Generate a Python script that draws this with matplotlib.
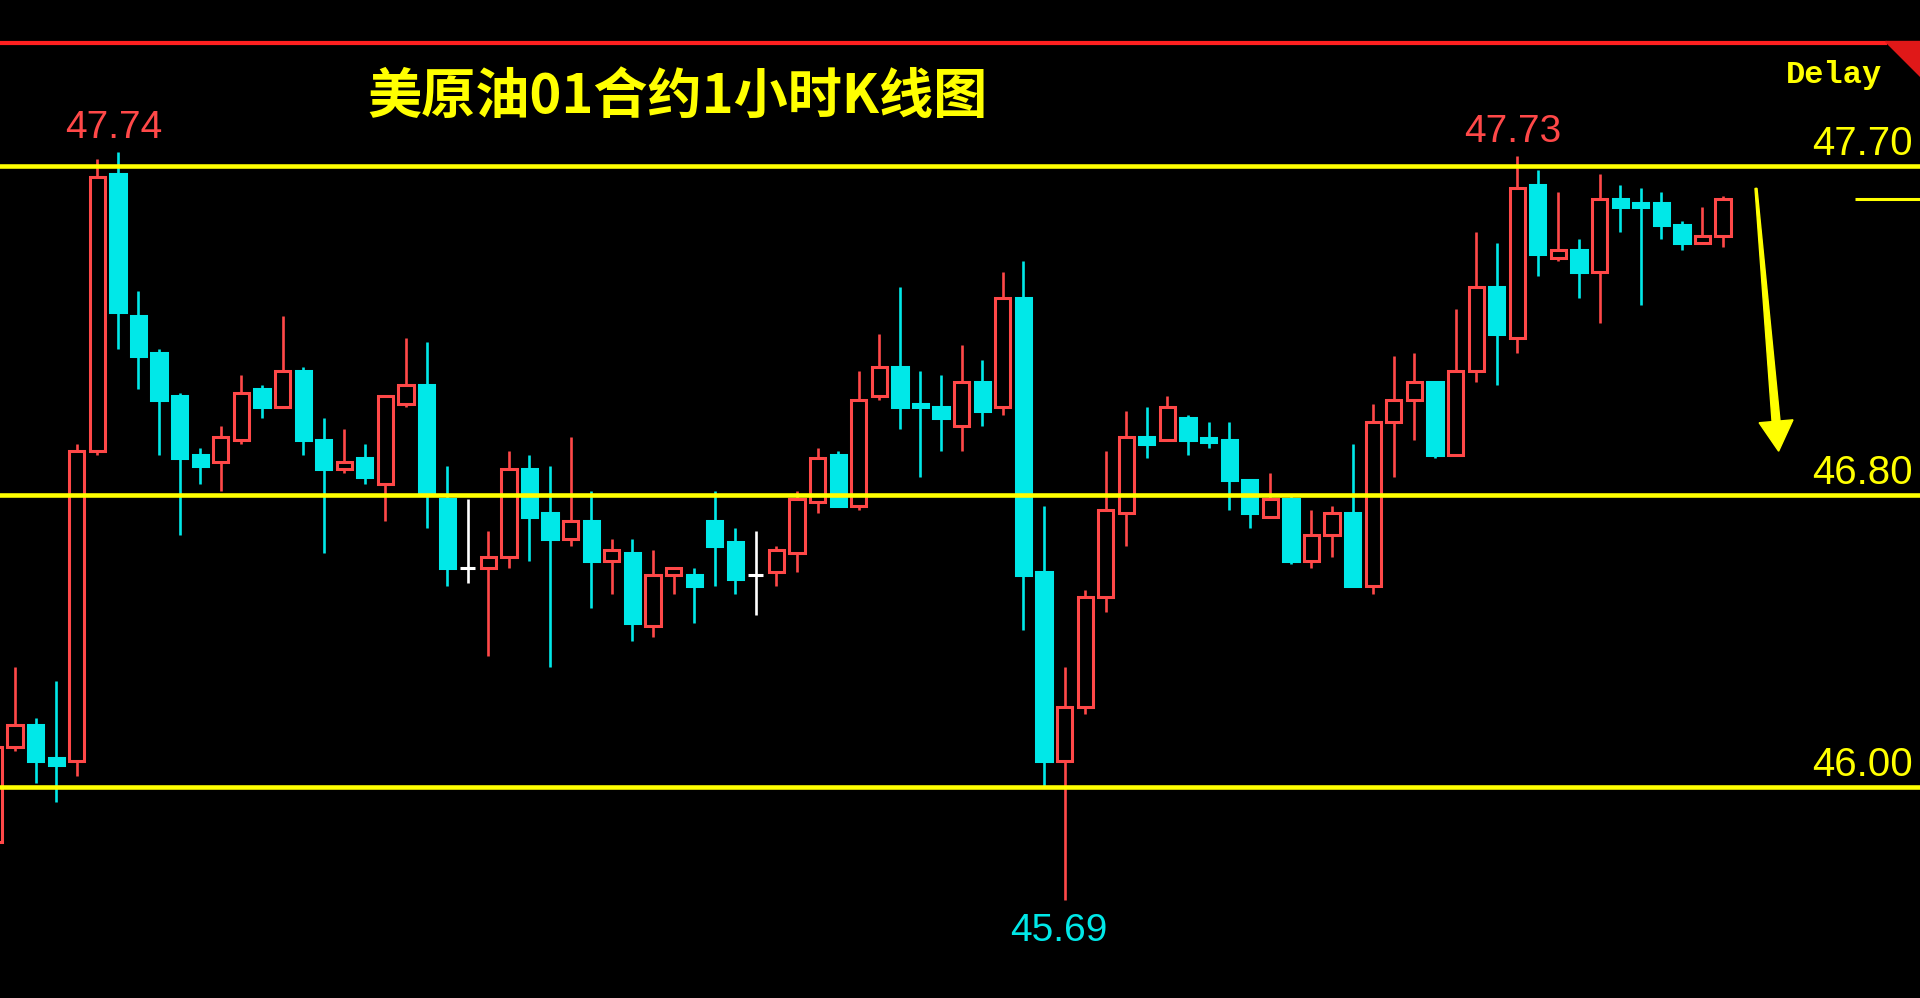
import numpy as np
import matplotlib
matplotlib.use("Agg")
import matplotlib.pyplot as plt
from matplotlib.patches import Polygon

# 1 hour candles
opens = [45.85, 46.11, 46.17, 46.08, 46.07, 46.92, 47.68, 47.29, 47.19, 47.07,
         46.91, 46.89, 46.95, 47.09, 47.04, 47.14, 46.95, 46.87, 46.90, 46.83,
         47.05, 47.10, 46.79, 46.60, 46.60, 46.63, 46.87, 46.75, 46.68, 46.73,
         46.62, 46.64, 46.44, 46.58, 46.58, 46.73, 46.67, 46.58, 46.59, 46.64,
         46.78, 46.91, 46.77, 47.07, 47.15, 47.05, 47.04, 46.99, 47.11, 47.04,
         47.34, 46.59, 46.07, 46.22, 46.52, 46.75, 46.96, 46.95, 47.01, 46.955,
         46.95, 46.84, 46.74, 46.79, 46.62, 46.69, 46.75, 46.55, 47.00, 47.06,
         47.11, 46.91, 47.14, 47.37, 47.23, 47.65, 47.45, 47.47, 47.41, 47.61,
         47.60, 47.60, 47.54, 47.49, 47.51]
highs = [46.11, 46.33, 46.19, 46.29, 46.94, 47.72, 47.74, 47.36, 47.20, 47.08,
         46.93, 46.99, 47.13, 47.10, 47.29, 47.15, 47.01, 46.98, 46.94, 47.07,
         47.23, 47.22, 46.88, 46.79, 46.70, 46.92, 46.91, 46.88, 46.96, 46.81,
         46.68, 46.68, 46.65, 46.60, 46.60, 46.81, 46.71, 46.70, 46.66, 46.81,
         46.93, 46.92, 47.14, 47.24, 47.37, 47.14, 47.13, 47.21, 47.17, 47.41,
         47.44, 46.77, 46.33, 46.54, 46.92, 47.03, 47.04, 47.07, 47.02, 47.00,
         47.00, 46.84, 46.86, 46.80, 46.76, 46.77, 46.94, 47.05, 47.18, 47.19,
         47.11, 47.31, 47.52, 47.49, 47.73, 47.69, 47.63, 47.50, 47.68, 47.65,
         47.64, 47.63, 47.55, 47.59, 47.62]
lows = [45.84, 46.10, 46.01, 45.96, 46.03, 46.91, 47.20, 47.09, 46.91, 46.69,
        46.83, 46.81, 46.94, 47.01, 47.04, 46.91, 46.64, 46.86, 46.83, 46.73,
        47.04, 46.71, 46.55, 46.56, 46.36, 46.60, 46.62, 46.33, 46.66, 46.49,
        46.53, 46.40, 46.41, 46.53, 46.45, 46.55, 46.53, 46.47, 46.55, 46.59,
        46.75, 46.77, 46.76, 47.06, 46.98, 46.85, 46.92, 46.92, 46.99, 47.02,
        46.43, 46.00, 45.69, 46.20, 46.48, 46.66, 46.90, 46.95, 46.91, 46.93,
        46.76, 46.71, 46.74, 46.61, 46.60, 46.63, 46.55, 46.53, 46.85, 46.95,
        46.90, 46.91, 47.11, 47.10, 47.19, 47.40, 47.44, 47.34, 47.27, 47.52,
        47.32, 47.50, 47.47, 47.49, 47.48]
closes = [46.11, 46.17, 46.07, 46.06, 46.92, 47.67, 47.30, 47.18, 47.06, 46.90,
          46.88, 46.96, 47.08, 47.04, 47.14, 46.95, 46.87, 46.89, 46.85, 47.07,
          47.10, 46.80, 46.60, 46.60, 46.63, 46.87, 46.74, 46.68, 46.73, 46.62,
          46.65, 46.45, 46.58, 46.60, 46.55, 46.66, 46.57, 46.58, 46.65, 46.79,
          46.90, 46.77, 47.06, 47.15, 47.04, 47.04, 47.01, 47.11, 47.03, 47.34,
          46.58, 46.07, 46.22, 46.52, 46.76, 46.96, 46.94, 47.04, 46.95, 46.945,
          46.84, 46.75, 46.79, 46.62, 46.69, 46.75, 46.55, 47.00, 47.06, 47.11,
          46.91, 47.14, 47.37, 47.24, 47.64, 47.46, 47.47, 47.41, 47.61, 47.59,
          47.59, 47.54, 47.49, 47.51, 47.61]

levels = [47.70, 46.80, 46.00]
level_labels = ["47.70", "46.80", "46.00"]
peak_idx = [6, 74]
peak_labels = ["47.74", "47.73"]
trough_idx = [52]
trough_labels = ["45.69"]
title = "美原油01合约1小时K线图"

RED = "#ff4848"
CYAN = "#00e8e8"
YELLOW = "#ffff00"

fig = plt.figure(figsize=(19.2, 9.98), dpi=100, facecolor="black")
ax = fig.add_axes([0, 0, 1, 1])
ax.set_facecolor("black")
ax.set_axis_off()
ax.set_xlim(0.27, 93.57)
ax.set_ylim(45.422, 48.156)

o = np.array(opens)
h = np.array(highs)
l = np.array(lows)
c = np.array(closes)
x = np.arange(len(o))

cols = np.where(c > o, RED, np.where(c < o, CYAN, "white"))
face = np.where(c > o, "black", cols)

# wicks, then bodies (red ones hollow)
ax.vlines(x, l, h, colors=cols, lw=1.9, zorder=2)
ax.bar(x, np.abs(c - o), width=0.74, bottom=np.minimum(o, c),
       color=list(face), edgecolor=list(cols), linewidth=2.2, zorder=3)

# support / resistance lines
for lv, txt in zip(levels, level_labels):
    ax.axhline(lv, color=YELLOW, lw=3.3, zorder=5)
    ax.annotate(txt, xy=(1, lv), xycoords=("axes fraction", "data"),
                xytext=(-5, 16), textcoords="offset points",
                ha="right", va="center", color=YELLOW, fontsize=29,
                family="Liberation Sans")

# high / low labels
for i, txt in zip(peak_idx, peak_labels):
    ax.annotate(txt, xy=(i, h[i]), xytext=(-3, 17), textcoords="offset points",
                ha="center", va="center", color=RED, fontsize=28,
                family="Liberation Sans")
for i, txt in zip(trough_idx, trough_labels):
    ax.annotate(txt, xy=(i, l[i]), xytext=(-4, -22), textcoords="offset points",
                ha="center", va="center", color=CYAN, fontsize=28,
                family="Liberation Sans")

# last price marker at right
ax.hlines(c[-1], 90.4, 93.57, color=YELLOW, lw=2.2, zorder=5)

# down arrow (tapered), built in pixels
fig.canvas.draw()
p0 = ax.transData.transform((85.6, 47.64))
p1 = ax.transData.transform((86.7, 46.92))
d = p1 - p0
u = d / np.hypot(*d)
nv = np.array([-u[1], u[0]])
base = p1 - u * 30
pts = [p0 + nv * 1.0, base + nv * 4, base + nv * 17, p1,
       base - nv * 17, base - nv * 4, p0 - nv * 1.0]
pts = ax.transData.inverted().transform(np.array(pts))
ax.add_patch(Polygon(pts, closed=True, color=YELLOW, zorder=6))

# top red border with corner flag
ax.plot([0, 0.983], [0.957, 0.957], transform=ax.transAxes, color="#ff2020",
        lw=3.0, solid_capstyle="butt", zorder=7)
ax.add_patch(Polygon([(0.982, 0.9585), (1, 0.9585), (1, 0.924)], closed=True,
                     transform=ax.transAxes, color="#e01818", zorder=7))

fig.text(0.353, 0.902, title, color=YELLOW, fontsize=39, ha="center",
         va="center", family=["Noto Sans CJK SC", "DejaVu Sans"],
         weight="bold")
fig.text(0.955, 0.925, "Delay", color=YELLOW, fontsize=23, ha="center",
         va="center", family="Liberation Mono", weight="bold")

fig.savefig("out.png", dpi=100, facecolor="black")
